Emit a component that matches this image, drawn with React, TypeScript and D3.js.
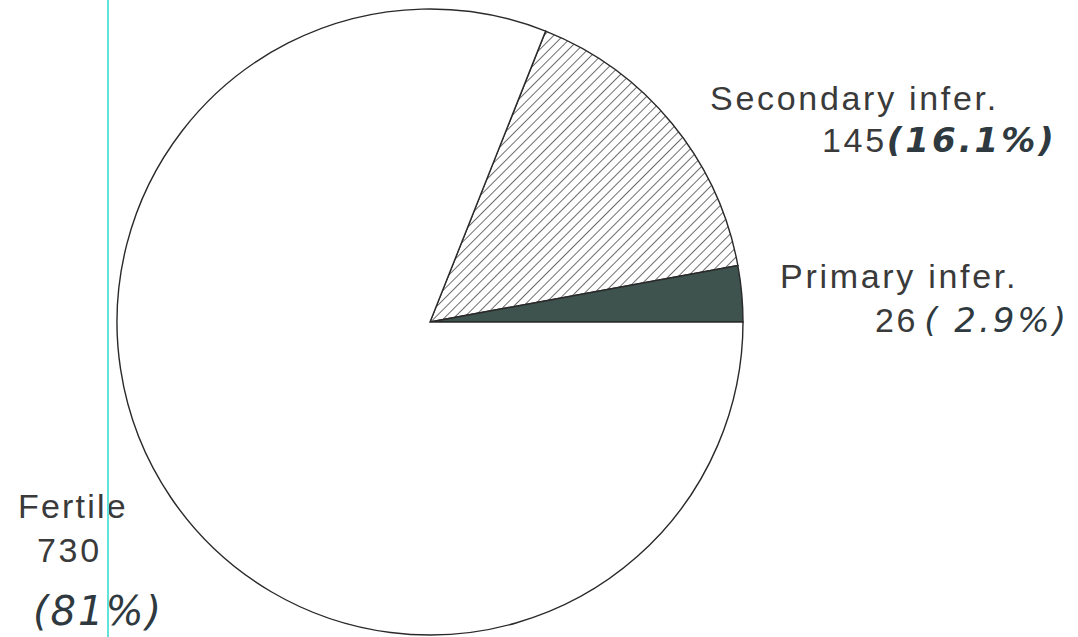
import React from "react";
import * as d3 from "d3";

const categories = ["Secondary infer.", "Primary infer.", "Fertile"];
const counts = [145, 26, 730];
const percentLabels = ["(16.1%)", "( 2.9%)", "(81%)"];

const W = 1078;
const H = 637;

export default function App() {
  const cx = 430;
  const cy = 322;
  const r = 313;
  const total = d3.sum(counts);
  const start = Math.PI / 2 - (2 * Math.PI * (counts[0] + counts[1])) / total;
  const pie = d3
    .pie<number>()
    .sort(null)
    .value((d) => d)
    .startAngle(start)
    .endAngle(start + 2 * Math.PI);
  const arcs = pie(counts);
  const arcGen = d3.arc<d3.PieArcDatum<number>>().innerRadius(0).outerRadius(r);
  const fills = ["url(#hatch)", "#3e524e", "#ffffff"];

  const labelFont = "'Liberation Sans', Arial, sans-serif";
  const handFont = "'DejaVu Sans', sans-serif";
  const textColor = "#3a3a3a";

  return (
    <svg
      width={W}
      height={H}
      style={{ position: "absolute", left: 0, top: 0, background: "#fff" }}
    >
      <defs>
        <pattern
          id="hatch"
          patternUnits="userSpaceOnUse"
          width={6.8}
          height={6.8}
          patternTransform="rotate(45)"
        >
          <rect width={6.8} height={6.8} fill="#fff" />
          <line x1={0} y1={0} x2={0} y2={6.8} stroke="#222" strokeWidth={1.3} />
        </pattern>
      </defs>
      <g transform={`translate(${cx},${cy})`}>
        {arcs.map((a, i) => (
          <path
            key={categories[i]}
            d={arcGen(a) || ""}
            fill={fills[i]}
            stroke="#2a2a2a"
            strokeWidth={1.4}
          />
        ))}
      </g>
      {/* Secondary */}
      <text x={710} y={110} fontFamily={labelFont} fontSize={34} letterSpacing={2.7} fill={textColor}>
        {categories[0]}
      </text>
      <text x={822} y={152} fontFamily={labelFont} fontSize={34} letterSpacing={2.7} fill={textColor}>
        {counts[0]}
        <tspan fontFamily={handFont} fontStyle="italic" fontWeight="bold" fontSize={34} fill="#2f3a40" letterSpacing={3}>
          {percentLabels[0]}
        </tspan>
      </text>
      {/* Primary */}
      <text x={780} y={288} fontFamily={labelFont} fontSize={34} letterSpacing={2.7} fill={textColor}>
        {categories[1]}
      </text>
      <text x={875} y={332} fontFamily={labelFont} fontSize={34} letterSpacing={2.7} fill={textColor}>
        {counts[1]}
        <tspan fontFamily={handFont} fontStyle="italic" fontSize={34} fill="#2f3a40" letterSpacing={3} dx={6}>
          {percentLabels[1]}
        </tspan>
      </text>
      {/* Fertile */}
      <text x={18} y={518} fontFamily={labelFont} fontSize={34} letterSpacing={2.2} fill={textColor}>
        {categories[2]}
      </text>
      <text x={37} y={562} fontFamily={labelFont} fontSize={34} letterSpacing={2.7} fill={textColor}>
        {counts[2]}
      </text>
      <text x={33} y={625} fontFamily={handFont} fontStyle="italic" fontSize={40} fill="#2f3a40" letterSpacing={2}>
        {percentLabels[2]}
      </text>
      {/* scan artifact line */}
      <line x1={108} y1={0} x2={108} y2={H} stroke="#5fe3dc" strokeWidth={2} />
    </svg>
  );
}
